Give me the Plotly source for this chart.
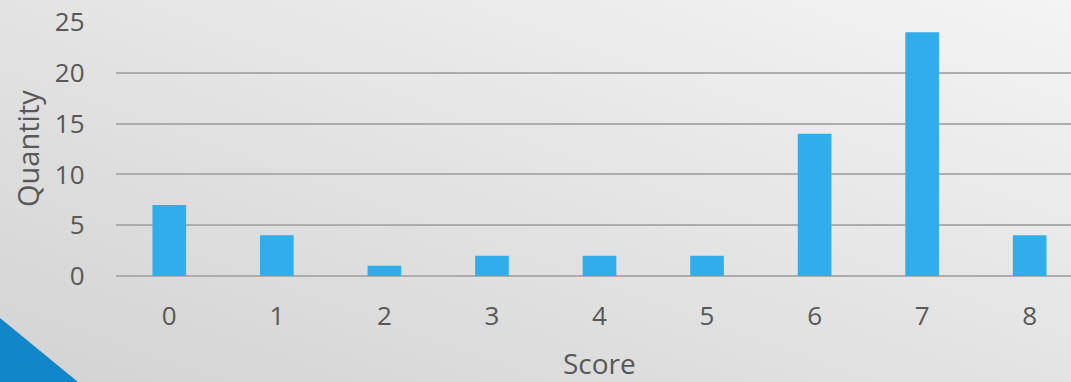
import base64
import plotly.graph_objects as go

scores = [0, 1, 2, 3, 4, 5, 6, 7, 8]
quantities = [7, 4, 1, 2, 2, 2, 14, 24, 4]
y_ticks = [0, 5, 10, 15, 20, 25]

W, H = 1071, 382
TEXT = "#585858"
FONT = "Open Sans"

svg = (
    f"<svg xmlns='http://www.w3.org/2000/svg' width='{W}' height='{H}' preserveAspectRatio='none'>"
    "<defs><linearGradient id='g' x1='0' y1='1' x2='1' y2='0'>"
    "<stop offset='0' stop-color='#d3d3d3'/><stop offset='1' stop-color='#f4f4f4'/>"
    "</linearGradient></defs>"
    f"<rect width='{W}' height='{H}' fill='url(#g)'/></svg>"
)
bg_src = "data:image/svg+xml;base64," + base64.b64encode(svg.encode()).decode()

fig = go.Figure(
    go.Bar(
        x=scores,
        y=quantities,
        width=0.313,
        marker=dict(color="#31adec", line=dict(width=0)),
    )
)

left_px, right_px = 115.5, 1071
top_px, zero_px = 22, 276

fig.update_layout(
    width=W,
    height=H,
    margin=dict(l=0, r=0, t=0, b=0, pad=0, autoexpand=False),
    paper_bgcolor="#e4e4e4",
    plot_bgcolor="rgba(0,0,0,0)",
    showlegend=False,
    font=dict(family=FONT, color=TEXT, size=27),
    images=[
        dict(
            source=bg_src,
            xref="paper",
            yref="paper",
            x=0,
            y=1,
            sizex=1,
            sizey=1,
            sizing="stretch",
            layer="below",
            xanchor="left",
            yanchor="top",
        )
    ],
    shapes=[
        dict(
            type="path",
            xref="paper",
            yref="paper",
            path=f"M 0 {(H-318)/H} L 0 0 L {78/W} 0 Z",
            fillcolor="#1186c8",
            line=dict(width=0),
            layer="below",
        )
    ],
    xaxis=dict(
        domain=[left_px / W, 1],
        range=[-0.5, 8.384],
        automargin=False,
        tickmode="array",
        tickvals=scores,
        ticktext=[str(s) for s in scores],
        showgrid=False,
        zeroline=False,
        showline=False,
        ticks="",
        ticklabelstandoff=22,
        tickfont=dict(size=26, color=TEXT, family=FONT),
        fixedrange=True,
    ),
    yaxis=dict(
        domain=[1 - zero_px / H, 1 - top_px / H],
        range=[0, 25],
        automargin=False,
        tickmode="array",
        tickvals=y_ticks,
        ticktext=[str(t) for t in y_ticks],
        showgrid=True,
        gridcolor="#adadad",
        gridwidth=1.5,
        zeroline=True,
        zerolinecolor="#adadad",
        zerolinewidth=1.5,
        showline=False,
        ticks="",
        ticklabelstandoff=30,
        tickfont=dict(size=26, color=TEXT, family=FONT),
        fixedrange=True,
    ),
    annotations=[
        dict(
            text="Score",
            xref="x",
            yref="paper",
            x=4,
            y=1 - 363 / H,
            showarrow=False,
            xanchor="center",
            yanchor="middle",
            font=dict(size=28, color=TEXT, family=FONT),
        ),
        dict(
            text="Quantity",
            xref="paper",
            yref="paper",
            x=28 / W,
            y=1 - 149 / H,
            textangle=-90,
            showarrow=False,
            xanchor="center",
            yanchor="middle",
            font=dict(size=29, color=TEXT, family=FONT),
        ),
    ],
)

fig.write_html("out.html")
